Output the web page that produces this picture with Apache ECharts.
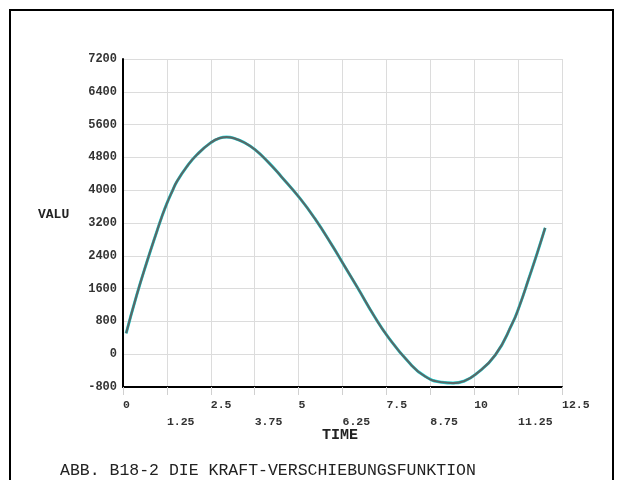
<!DOCTYPE html>
<html>
<head>
<meta charset="utf-8">
<script src="https://cdn.jsdelivr.net/npm/echarts@6/dist/echarts.min.js"></script>
<style>html,body{margin:0;padding:0;background:#fff}#c{width:622px;height:480px}</style>
</head>
<body>
<div id="c"></div>
<script>
const time = [0.09, 0.39, 0.68, 0.97, 1.1, 1.25, 1.4, 1.54, 1.83, 2.11, 2.5, 2.75, 2.95, 3.15, 3.46, 3.76, 4.13, 4.51, 5.04, 5.47, 5.95, 6.28, 6.68, 7.16, 7.54, 8.12, 8.6, 9.08, 9.4, 9.7, 10.03, 10.6, 11.08, 11.29, 11.56, 11.8, 12.02];
const valu = [510, 1440, 2250, 3010, 3340, 3680, 3970, 4220, 4590, 4870, 5160, 5270, 5295, 5270, 5160, 4990, 4690, 4330, 3800, 3300, 2660, 2190, 1620, 920, 430, -180, -540, -685, -705, -660, -500, -20, 740, 1180, 1860, 2480, 3080];
const yTicks = [-800, 0, 800, 1600, 2400, 3200, 4000, 4800, 5600, 6400, 7200];
const xTicks = [0, 1.25, 2.5, 3.75, 5, 6.25, 7.5, 8.75, 10, 11.25, 12.5];
const yLabel = 'VALU';
const xLabel = 'TIME';
const caption = 'ABB. B18-2 DIE KRAFT-VERSCHIEBUNGSFUNKTION';

const pts = time.map((t, i) => [t, valu[i]]);
const chart = echarts.init(document.getElementById('c'), null, {renderer: 'canvas'});
const mono = '"Liberation Mono", "DejaVu Sans Mono", monospace';
chart.setOption({
  animation: false,
  backgroundColor: '#fff',
  grid: {left: 123, right: 60, top: 59, bottom: 93},
  xAxis: {
    type: 'value', min: xTicks[0], max: xTicks[xTicks.length - 1], interval: 1.25,
    axisLine: {show: true, onZero: false, lineStyle: {color: '#000', width: 2}},
    axisTick: {show: true, length: 8, lineStyle: {color: '#d0d0d0'}},
    splitLine: {show: true, lineStyle: {color: '#dcdcdc', width: 1}},
    axisLabel: {
      show: true, align: 'left', margin: 10, color: '#333',
      fontFamily: mono, fontWeight: 'bold', fontSize: 11.5, lineHeight: 17,
      formatter: function (v) {
        const idx = xTicks.findIndex(t => Math.abs(t - v) < 1e-6);
        const s = String(v);
        return idx % 2 === 1 ? '\n' + s : s;
      }
    }
  },
  yAxis: {
    type: 'value', min: yTicks[0], max: yTicks[yTicks.length - 1], interval: 800,
    axisLine: {show: true, onZero: false, lineStyle: {color: '#000', width: 2}},
    axisTick: {show: false},
    splitLine: {show: true, lineStyle: {color: '#dcdcdc', width: 1}},
    axisLabel: {show: true, margin: 6, color: '#333', fontFamily: mono, fontWeight: 'bold', fontSize: 12,
      formatter: function (v) { return String(v); }}
  },
  series: [
    {type: 'line', data: pts, smooth: 0.5, symbol: 'none',
     lineStyle: {color: '#22e2e2', width: 3}, z: 2},
    {type: 'line', data: pts, smooth: 0.5, symbol: 'none',
     lineStyle: {color: '#586868', width: 2.2}, z: 3}
  ],
  graphic: [
    {type: 'rect', shape: {x: 10, y: 10, width: 603, height: 520},
     style: {fill: 'none', stroke: '#000', lineWidth: 2}, silent: true},
    {type: 'text', left: 38, top: 208,
     style: {text: yLabel, font: 'bold 13px ' + mono, fill: '#222'}},
    {type: 'text', left: 322, top: 428,
     style: {text: xLabel, font: 'bold 15px ' + mono, fill: '#222'}},
    {type: 'text', left: 60, top: 462,
     style: {text: caption, font: '16.5px ' + mono, fill: '#222'}}
  ]
});
</script>
</body>
</html>
